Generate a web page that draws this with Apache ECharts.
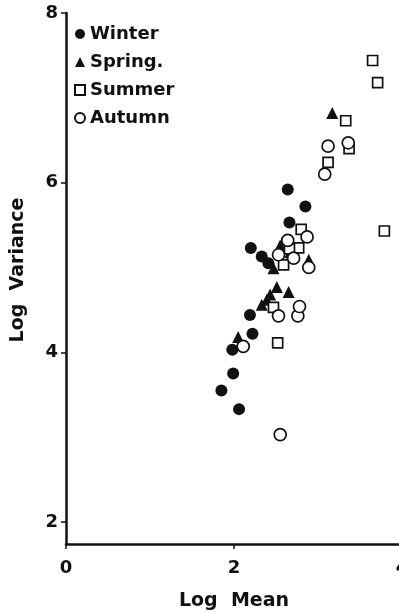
<!DOCTYPE html>
<html>
<head>
<meta charset="utf-8">
<title>Log Variance vs Log Mean</title>
<script src="https://cdn.jsdelivr.net/npm/echarts@6/dist/echarts.min.js"></script>
<style>
  html, body { margin: 0; padding: 0; background: #fff; }
  #chart { width: 399px; height: 613px; }
</style>
</head>
<body>
<div id="chart"></div>
<script>
// 数据 [log mean, log variance]
let winter = [
    [1.85, 3.55], [2.06, 3.33], [1.99, 3.75], [1.98, 4.03], [2.22, 4.22],
    [2.19, 4.44], [2.20, 5.23], [2.33, 5.13], [2.41, 5.05], [2.64, 5.92],
    [2.66, 5.53], [2.85, 5.72]
]
let spring = [
    [2.05, 4.18], [2.33, 4.56], [2.39, 4.62], [2.43, 4.68], [2.51, 4.77],
    [2.65, 4.71], [2.47, 4.99], [2.55, 5.26], [2.67, 5.18], [2.89, 5.09],
    [3.17, 6.82]
]
let summer = [
    [3.65, 7.44], [3.71, 7.18], [3.33, 6.73], [3.37, 6.40], [3.12, 6.24],
    [3.79, 5.43], [2.80, 5.45], [2.77, 5.23], [2.66, 5.22], [2.59, 5.03],
    [2.47, 4.53], [2.52, 4.11]
]
let autumn = [
    [2.55, 3.03], [2.11, 4.07], [2.53, 4.43], [2.76, 4.43], [2.78, 4.54],
    [2.89, 5.00], [2.71, 5.11], [2.53, 5.15], [2.64, 5.32], [2.87, 5.36],
    [3.08, 6.10], [3.12, 6.43], [3.36, 6.47]
]
// 刻度
let xTicks = [0, 2, 4]
let yTicks = [2, 4, 6, 8]

let font = 'DejaVu Sans'
let myChart = echarts.init(document.querySelector('#chart'))

option = {
    animation: false,
    // 不让标签把网格往里挤
    grid: { left: 66, top: 13, right: -3, bottom: 69, outerBoundsMode: 'none', containLabel: false },
    legend: {
        orient: 'vertical',
        left: 69,
        top: 20,
        itemWidth: 10,
        itemHeight: 10,
        itemGap: 10,
        textStyle: { fontFamily: font, fontWeight: 'bold', fontSize: 18, lineHeight: 18, color: '#111' },
        formatter: function (name) {
            return name == 'Spring' ? 'Spring.' : name
        },
        data: [
            { name: 'Winter', icon: 'circle' },
            { name: 'Spring', icon: 'triangle' },
            { name: 'Summer', icon: 'rect' },
            { name: 'Autumn', icon: 'circle' }
        ]
    },
    xAxis: {
        type: 'value',
        min: 0,
        max: 4,
        interval: 2,
        name: 'Log  Mean',
        nameLocation: 'middle',
        nameGap: 48,
        nameTextStyle: { fontFamily: font, fontWeight: 'bold', fontSize: 19, color: '#111' },
        splitLine: { show: false },
        axisLine: { lineStyle: { color: '#111', width: 2.5 } },
        axisTick: { length: 5, lineStyle: { color: '#111', width: 1.5 }, customValues: xTicks },
        axisLabel: { margin: 15, fontFamily: font, fontWeight: 'bold', fontSize: 18, color: '#111', customValues: xTicks }
    },
    yAxis: {
        type: 'value',
        min: 1.74,
        max: 8,
        splitLine: { show: false },
        axisLine: { show: true, lineStyle: { color: '#111', width: 2.5 } },
        axisTick: { show: true, length: 5, lineStyle: { color: '#111', width: 1.5 }, customValues: yTicks },
        axisLabel: { margin: 8, fontFamily: font, fontWeight: 'bold', fontSize: 18, color: '#111', customValues: yTicks }
    },
    // y轴名字 竖着写
    graphic: [{
        type: 'text',
        x: 18,
        y: 270,
        rotation: Math.PI / 2,
        style: {
            text: 'Log  Variance',
            font: 'bold 19px ' + font,
            fill: '#111',
            align: 'center',
            verticalAlign: 'middle'
        }
    }],
    series: [
        {
            name: 'Winter',
            type: 'scatter',
            symbol: 'circle',
            symbolSize: 12,
            itemStyle: { color: '#111', opacity: 1 },
            data: winter
        },
        {
            name: 'Spring',
            type: 'scatter',
            symbol: 'triangle',
            symbolSize: 12,
            itemStyle: { color: '#111', opacity: 1 },
            data: spring
        },
        {
            name: 'Summer',
            type: 'scatter',
            symbol: 'rect',
            symbolSize: 10,
            itemStyle: { color: '#fff', borderColor: '#111', borderWidth: 1.7, opacity: 1 },
            data: summer
        },
        {
            name: 'Autumn',
            type: 'scatter',
            symbol: 'circle',
            symbolSize: 12,
            itemStyle: { color: '#fff', borderColor: '#111', borderWidth: 1.7, opacity: 1 },
            data: autumn
        }
    ]
};
myChart.setOption(option);
window.addEventListener('resize', function () {
    myChart.resize();
})
</script>
</body>
</html>
